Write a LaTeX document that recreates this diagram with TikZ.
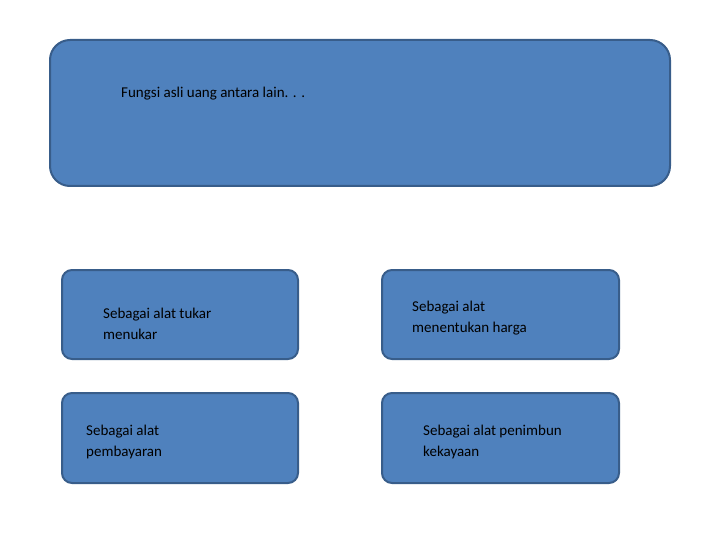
\documentclass[tikz,border=0pt]{standalone}
\usepackage{fontspec}
\setmainfont{Carlito}
\definecolor{boxfill}{HTML}{4F81BD}
\definecolor{boxline}{HTML}{385D8A}
\begin{document}
\begin{tikzpicture}[x=1pt,y=-1pt,
  box/.style={draw=boxline,line width=2pt,fill=boxfill},
  lbl/.style={anchor=west,align=left,inner sep=0pt,font=\fontsize{15}{21}\selectfont,text=black}]
\useasboundingbox (0,0) rectangle (720,540);
\draw[box,rounded corners=20] (50,40) rectangle (670,186);
\draw[box,rounded corners=10] (62,270) rectangle (298,359);
\draw[box,rounded corners=10] (382,270) rectangle (619,359);
\draw[box,rounded corners=10] (62,393) rectangle (298,483);
\draw[box,rounded corners=10] (382,393) rectangle (619,483);
\node[lbl] (t0) at (121,94) {Fungsi asli uang antara lain. . .};
\node[lbl] (t1) at (103,324) {Sebagai alat tukar\\menukar};
\node[lbl] (t2) at (412,318) {Sebagai alat\\menentukan harga};
\node[lbl] (t3) at (86,442) {Sebagai alat\\pembayaran};
\node[lbl] (t4) at (423,442) {Sebagai alat penimbun\\kekayaan};
\end{tikzpicture}
\end{document}
